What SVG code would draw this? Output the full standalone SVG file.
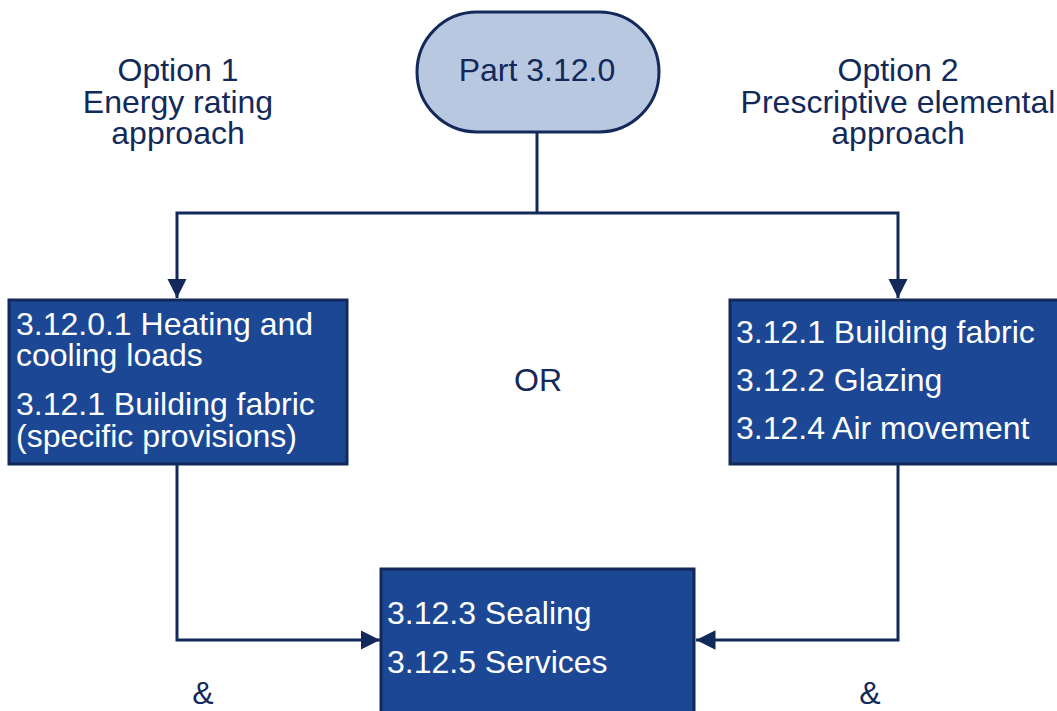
<svg xmlns="http://www.w3.org/2000/svg" width="1057" height="711" viewBox="0 0 1057 711">
<defs>
<style>
.t{font-family:"Liberation Sans",Arial,sans-serif;font-size:32px}
.dk{fill:#12295a}
.wt{fill:#ffffff}
.box{fill:#1b4795;stroke:#12295a;stroke-width:3}
.ln{fill:none;stroke:#12295a;stroke-width:3}
</style>
<marker id="ah" viewBox="0 0 10 10" refX="10" refY="5" markerWidth="6.5" markerHeight="6.5" orient="auto" markerUnits="strokeWidth">
<path d="M0,0 L10,5 L0,10 Z" fill="#12295a"/>
</marker>
</defs>
<rect width="1057" height="711" fill="#ffffff"/>
<g id="connectors">
<path class="ln" d="M537,132 V213"/>
<path class="ln" d="M537,213 H177 V298" marker-end="url(#ah)"/>
<path class="ln" d="M537,213 H898 V298" marker-end="url(#ah)"/>
<path class="ln" d="M177,464 V640 H380" marker-end="url(#ah)"/>
<path class="ln" d="M898,464 V640 H696" marker-end="url(#ah)"/>
</g>
<g id="part">
<rect x="417" y="12" width="242" height="120" rx="60" ry="60" fill="#b8c8e0" stroke="#12295a" stroke-width="3"/>
<text class="t dk" x="537" y="81" text-anchor="middle">Part 3.12.0</text>
</g>
<g id="option1">
<text class="t dk" x="178" y="81" text-anchor="middle">Option 1</text>
<text class="t dk" x="178" y="113" text-anchor="middle">Energy rating</text>
<text class="t dk" x="178" y="144" text-anchor="middle">approach</text>
</g>
<g id="option2">
<text class="t dk" x="898" y="81" text-anchor="middle">Option 2</text>
<text class="t dk" x="898" y="113" text-anchor="middle">Prescriptive elemental</text>
<text class="t dk" x="898" y="144" text-anchor="middle">approach</text>
</g>
<g id="left-box">
<rect class="box" x="9" y="300" width="338" height="164"/>
<text class="t wt" x="16" y="335">3.12.0.1 Heating and</text>
<text class="t wt" x="16" y="366">cooling loads</text>
<text class="t wt" x="16" y="415">3.12.1 Building fabric</text>
<text class="t wt" x="16" y="447">(specific provisions)</text>
</g>
<g id="right-box">
<rect class="box" x="730" y="300" width="340" height="164"/>
<text class="t wt" x="736" y="343">3.12.1 Building fabric</text>
<text class="t wt" x="736" y="391">3.12.2 Glazing</text>
<text class="t wt" x="736" y="439">3.12.4 Air movement</text>
</g>
<g id="bottom-box">
<rect class="box" x="381" y="569" width="313" height="160"/>
<text class="t wt" x="387" y="624">3.12.3 Sealing</text>
<text class="t wt" x="387" y="673">3.12.5 Services</text>
</g>
<g id="labels">
<text class="t dk" x="538" y="391" text-anchor="middle">OR</text>
<text class="t dk" x="203" y="704" text-anchor="middle">&amp;</text>
<text class="t dk" x="870" y="704" text-anchor="middle">&amp;</text>
</g>
</svg>
